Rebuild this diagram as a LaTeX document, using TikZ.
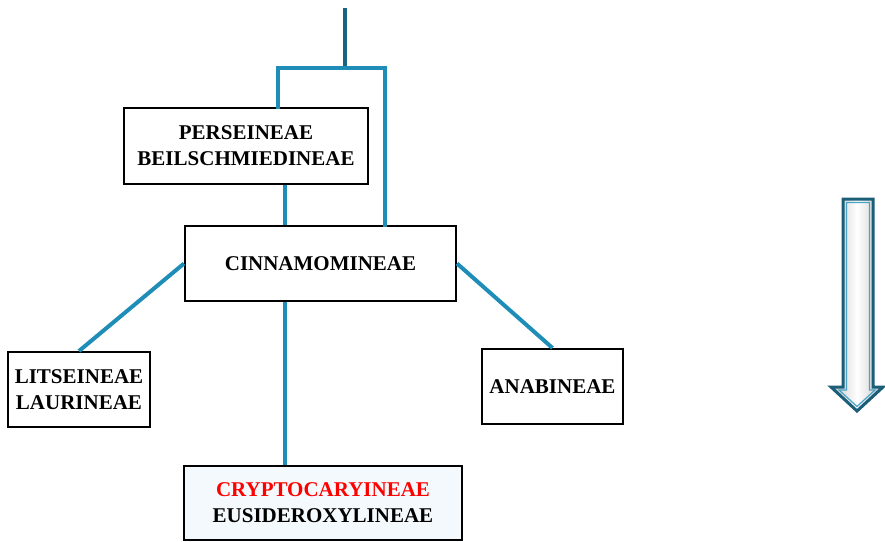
\documentclass[tikz,border=0pt]{standalone}
\usepackage{fontspec}
\setmainfont{Liberation Serif}
\usetikzlibrary{positioning,shadings}
\definecolor{branchblue}{HTML}{1E8DB8}
\definecolor{stemblue}{HTML}{1A6483}
\definecolor{arrowedge}{HTML}{1B5E78}
\definecolor{cryptfill}{HTML}{F3F9FC}
\tikzset{
	taxon/.style={draw=black,line width=2pt,align=center,inner sep=0pt,
		font=\fontsize{21}{26}\selectfont\bfseries},
	branch/.style={draw=branchblue,line width=4pt,line cap=butt}
}
\begin{document}
\begin{tikzpicture}[x=1pt,y=-1pt]
	\useasboundingbox (0,0) rectangle (885,541);
	
	\node[taxon,minimum width=244pt,minimum height=76pt] (pers) at (246,146) {PERSEINEAE\\BEILSCHMIEDINEAE};
	\node[taxon,minimum width=271pt,minimum height=75pt] (cinn) at (320.5,263.5) {CINNAMOMINEAE};
	\node[taxon,minimum width=142pt,minimum height=75pt] (lits) at (79,389.5) {LITSEINEAE\\LAURINEAE};
	\node[taxon,minimum width=141pt,minimum height=75pt] (anab) at (552.5,386.5) {ANABINEAE};
	\node[taxon,fill=cryptfill,minimum width=278pt,minimum height=74pt] (crypt) at (323,503) {\textcolor{red}{CRYPTOCARYINEAE}\\EUSIDEROXYLINEAE};
	
	% bracket above the first box
	\coordinate (root) at (345,8);
	\coordinate (joint) at (345,68);
	\coordinate (lft) at (278,68);
	\coordinate (rgt) at (385,68);
	\draw[branch,draw=stemblue] (root) -- (joint);
	\draw[branch,line cap=rect] (pers.north -| lft) -- (lft) -- (rgt) -- (cinn.north -| rgt);
	
	\coordinate (mid) at (285,0);
	\draw[branch] (pers.south -| mid) -- (cinn.north -| mid);
	\draw[branch] (cinn.south -| mid) -- (crypt.north -| mid);
	\draw[branch] (cinn.west) -- (lits.north);
	\draw[branch] (cinn.east) -- (anab.north);
	
	% downward arrow
	\path[draw=arrowedge,line width=3pt,line join=miter,left color=gray!45,right color=gray!45,middle color=white]
	(843,199) -- (873,199) -- (873,387) -- (883,387) -- (857,411) -- (831,387) -- (843,387) -- cycle;
	\draw[branchblue!80,line width=1.2pt,line join=miter]
	(846.5,202.5) -- (869.5,202.5) -- (869.5,390) -- (875,390) -- (857,406.5) -- (839,390) -- (846.5,390) -- cycle;
	
\end{tikzpicture}
\end{document}
